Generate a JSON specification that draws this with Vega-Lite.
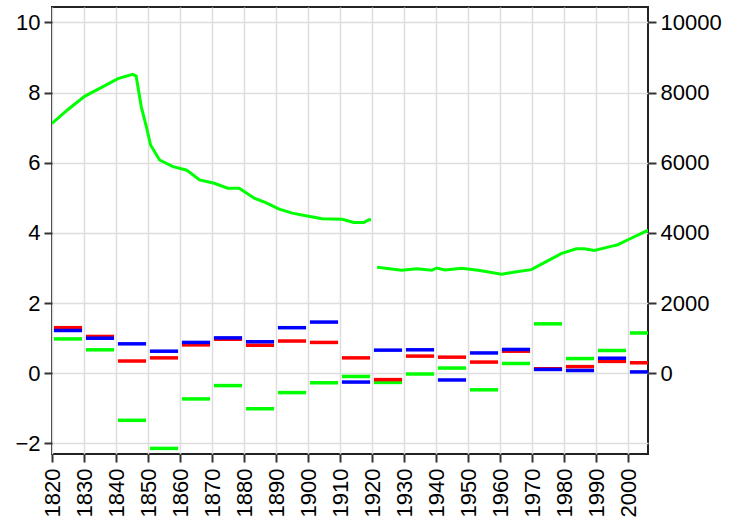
{
  "$schema": "https://vega.github.io/schema/vega-lite/v6.json",
  "width": 596,
  "height": 447,
  "autosize": "none",
  "padding": {"left": 52, "top": 7, "right": 85, "bottom": 70},
  "background": "white",
  "config": {
    "view": {"stroke": "#222", "strokeWidth": 2},
    "axis": {
      "labelFont": "Liberation Sans",
      "labelFontSize": 22,
      "labelColor": "black",
      "tickColor": "#333",
      "tickWidth": 2,
      "tickSize": 8,
      "labelPadding": 4,
      "domain": false,
      "gridColor": "#dddddd",
      "gridWidth": 1.5,
      "title": null
    }
  },
  "datasets": {
    "pop": [
      {"year": 1820, "pop": 7120, "part": "a"},
      {"year": 1825, "pop": 7520, "part": "a"},
      {"year": 1830.3, "pop": 7900, "part": "a"},
      {"year": 1835.5, "pop": 8150, "part": "a"},
      {"year": 1840.6, "pop": 8400, "part": "a"},
      {"year": 1845.2, "pop": 8520, "part": "a"},
      {"year": 1846.3, "pop": 8470, "part": "a"},
      {"year": 1847.9, "pop": 7594, "part": "a"},
      {"year": 1849.5, "pop": 7026, "part": "a"},
      {"year": 1850.8, "pop": 6506, "part": "a"},
      {"year": 1853.6, "pop": 6080, "part": "a"},
      {"year": 1857.8, "pop": 5890, "part": "a"},
      {"year": 1861.9, "pop": 5795, "part": "a"},
      {"year": 1862.4, "pop": 5770, "part": "a"},
      {"year": 1866.1, "pop": 5511, "part": "a"},
      {"year": 1870.7, "pop": 5417, "part": "a"},
      {"year": 1874.9, "pop": 5275, "part": "a"},
      {"year": 1878.5, "pop": 5275, "part": "a"},
      {"year": 1883.2, "pop": 4990, "part": "a"},
      {"year": 1886.8, "pop": 4867, "part": "a"},
      {"year": 1891, "pop": 4678, "part": "a"},
      {"year": 1895.1, "pop": 4565, "part": "a"},
      {"year": 1899.3, "pop": 4489, "part": "a"},
      {"year": 1904.4, "pop": 4403, "part": "a"},
      {"year": 1910.7, "pop": 4390, "part": "a"},
      {"year": 1914.3, "pop": 4299, "part": "a"},
      {"year": 1917.4, "pop": 4299, "part": "a"},
      {"year": 1919, "pop": 4375, "part": "a"},
      {"year": 1919.7, "pop": 4375, "part": "a"},
      {"year": 1921.6, "pop": 3021, "part": "b"},
      {"year": 1929.3, "pop": 2936, "part": "b"},
      {"year": 1934, "pop": 2983, "part": "b"},
      {"year": 1938.7, "pop": 2936, "part": "b"},
      {"year": 1940.2, "pop": 3002, "part": "b"},
      {"year": 1942.8, "pop": 2945, "part": "b"},
      {"year": 1948, "pop": 2992, "part": "b"},
      {"year": 1953.2, "pop": 2936, "part": "b"},
      {"year": 1960.5, "pop": 2822, "part": "b"},
      {"year": 1964.6, "pop": 2888, "part": "b"},
      {"year": 1969.8, "pop": 2955, "part": "b"},
      {"year": 1974, "pop": 3163, "part": "b"},
      {"year": 1979.1, "pop": 3409, "part": "b"},
      {"year": 1983.8, "pop": 3551, "part": "b"},
      {"year": 1986.4, "pop": 3551, "part": "b"},
      {"year": 1989.5, "pop": 3504, "part": "b"},
      {"year": 1994.7, "pop": 3617, "part": "b"},
      {"year": 1996.8, "pop": 3665, "part": "b"},
      {"year": 2000, "pop": 3807, "part": "b"},
      {"year": 2006.3, "pop": 4080, "part": "b"}
    ],
    "rates": [
      {"start": 1820.6, "end": 1829.4, "series": "green", "value": 0.98},
      {"start": 1830.6, "end": 1839.4, "series": "green", "value": 0.67},
      {"start": 1840.6, "end": 1849.4, "series": "green", "value": -1.34},
      {"start": 1850.6, "end": 1859.4, "series": "green", "value": -2.14},
      {"start": 1860.6, "end": 1869.4, "series": "green", "value": -0.73},
      {"start": 1870.6, "end": 1879.4, "series": "green", "value": -0.35},
      {"start": 1880.6, "end": 1889.4, "series": "green", "value": -1.01},
      {"start": 1890.6, "end": 1899.4, "series": "green", "value": -0.55},
      {"start": 1900.6, "end": 1909.4, "series": "green", "value": -0.27},
      {"start": 1910.6, "end": 1919.4, "series": "green", "value": -0.09},
      {"start": 1920.6, "end": 1929.4, "series": "green", "value": -0.26},
      {"start": 1930.6, "end": 1939.4, "series": "green", "value": -0.02},
      {"start": 1940.6, "end": 1949.4, "series": "green", "value": 0.15},
      {"start": 1950.6, "end": 1959.4, "series": "green", "value": -0.47},
      {"start": 1960.6, "end": 1969.4, "series": "green", "value": 0.28},
      {"start": 1970.6, "end": 1979.4, "series": "green", "value": 1.41},
      {"start": 1980.6, "end": 1989.4, "series": "green", "value": 0.42},
      {"start": 1990.6, "end": 1999.4, "series": "green", "value": 0.65},
      {"start": 2000.6, "end": 2009.4, "series": "green", "value": 1.15},
      {"start": 1820.6, "end": 1829.4, "series": "red", "value": 1.30},
      {"start": 1830.6, "end": 1839.4, "series": "red", "value": 1.05},
      {"start": 1840.6, "end": 1849.4, "series": "red", "value": 0.35},
      {"start": 1850.6, "end": 1859.4, "series": "red", "value": 0.44},
      {"start": 1860.6, "end": 1869.4, "series": "red", "value": 0.81},
      {"start": 1870.6, "end": 1879.4, "series": "red", "value": 0.97},
      {"start": 1880.6, "end": 1889.4, "series": "red", "value": 0.80},
      {"start": 1890.6, "end": 1899.4, "series": "red", "value": 0.92},
      {"start": 1900.6, "end": 1909.4, "series": "red", "value": 0.88},
      {"start": 1910.6, "end": 1919.4, "series": "red", "value": 0.44},
      {"start": 1920.6, "end": 1929.4, "series": "red", "value": -0.18},
      {"start": 1930.6, "end": 1939.4, "series": "red", "value": 0.49},
      {"start": 1940.6, "end": 1949.4, "series": "red", "value": 0.46},
      {"start": 1950.6, "end": 1959.4, "series": "red", "value": 0.32},
      {"start": 1960.6, "end": 1969.4, "series": "red", "value": 0.63},
      {"start": 1970.6, "end": 1979.4, "series": "red", "value": 0.13},
      {"start": 1980.6, "end": 1989.4, "series": "red", "value": 0.19},
      {"start": 1990.6, "end": 1999.4, "series": "red", "value": 0.34},
      {"start": 2000.6, "end": 2009.4, "series": "red", "value": 0.30},
      {"start": 1820.6, "end": 1829.4, "series": "blue", "value": 1.22},
      {"start": 1830.6, "end": 1839.4, "series": "blue", "value": 1.00},
      {"start": 1840.6, "end": 1849.4, "series": "blue", "value": 0.84},
      {"start": 1850.6, "end": 1859.4, "series": "blue", "value": 0.63},
      {"start": 1860.6, "end": 1869.4, "series": "blue", "value": 0.88},
      {"start": 1870.6, "end": 1879.4, "series": "blue", "value": 1.01},
      {"start": 1880.6, "end": 1889.4, "series": "blue", "value": 0.90},
      {"start": 1890.6, "end": 1899.4, "series": "blue", "value": 1.30},
      {"start": 1900.6, "end": 1909.4, "series": "blue", "value": 1.46},
      {"start": 1910.6, "end": 1919.4, "series": "blue", "value": -0.25},
      {"start": 1920.6, "end": 1929.4, "series": "blue", "value": 0.66},
      {"start": 1930.6, "end": 1939.4, "series": "blue", "value": 0.67},
      {"start": 1940.6, "end": 1949.4, "series": "blue", "value": -0.19},
      {"start": 1950.6, "end": 1959.4, "series": "blue", "value": 0.58},
      {"start": 1960.6, "end": 1969.4, "series": "blue", "value": 0.68},
      {"start": 1970.6, "end": 1979.4, "series": "blue", "value": 0.11},
      {"start": 1980.6, "end": 1989.4, "series": "blue", "value": 0.08},
      {"start": 1990.6, "end": 1999.4, "series": "blue", "value": 0.43},
      {"start": 2000.6, "end": 2009.4, "series": "blue", "value": 0.04}
    ]
  },
  "layer": [
    {
      "data": {"name": "rates"},
      "mark": {"type": "rule", "strokeWidth": 3.5, "clip": true},
      "encoding": {
        "x": {
          "field": "start", "type": "quantitative",
          "scale": {"domain": [1820, 2006.25], "nice": false, "zero": false},
          "axis": {
            "orient": "bottom",
            "values": [1820, 1830, 1840, 1850, 1860, 1870, 1880, 1890, 1900, 1910, 1920, 1930, 1940, 1950, 1960, 1970, 1980, 1990, 2000],
            "labelAngle": -90,
            "labelAlign": "right",
            "labelBaseline": "middle",
            "format": "d",
            "labelPadding": 6,
            "grid": true,
            "labelOverlap": false
          }
        },
        "x2": {"field": "end"},
        "y": {
          "field": "value", "type": "quantitative",
          "scale": {"domain": [-2.3, 10.44], "nice": false, "zero": false},
          "axis": {"orient": "left", "values": [-2, 0, 2, 4, 6, 8, 10], "grid": true}
        },
        "color": {
          "field": "series", "type": "nominal",
          "scale": {"domain": ["green", "red", "blue"], "range": ["#00ff00", "#ff0000", "#0000ff"]},
          "legend": null
        }
      }
    },
    {
      "data": {"name": "pop"},
      "mark": {"type": "line", "color": "#00ff00", "strokeWidth": 3, "clip": true},
      "encoding": {
        "x": {
          "field": "year", "type": "quantitative",
          "axis": {
            "orient": "bottom",
            "values": [1820, 1830, 1840, 1850, 1860, 1870, 1880, 1890, 1900, 1910, 1920, 1930, 1940, 1950, 1960, 1970, 1980, 1990, 2000],
            "labelAngle": -90,
            "labelAlign": "right",
            "labelBaseline": "middle",
            "format": "d",
            "labelPadding": 6,
            "grid": true,
            "labelOverlap": false
          }
        },
        "y": {
          "field": "pop", "type": "quantitative",
          "scale": {"domain": [-2300, 10440], "nice": false, "zero": false},
          "axis": {"orient": "right", "values": [0, 2000, 4000, 6000, 8000, 10000], "grid": false, "format": "d"}
        },
        "detail": {"field": "part", "type": "nominal"}
      }
    }
  ],
  "resolve": {"scale": {"y": "independent"}}
}
